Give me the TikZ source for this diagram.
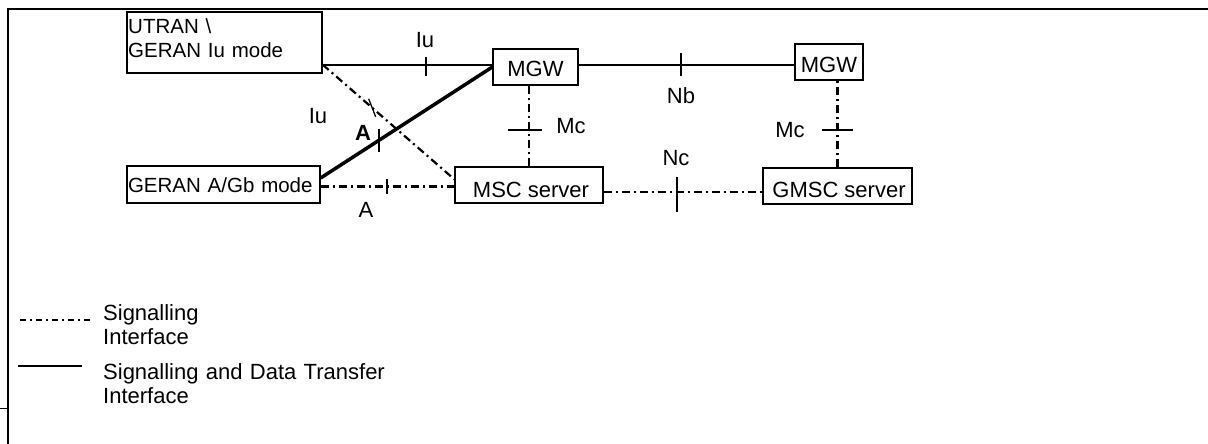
\documentclass[tikz,border=0pt]{standalone}
\usepackage{fontspec}
\setmainfont{Liberation Sans}
\begin{document}
\begin{tikzpicture}[x=1pt,y=-1pt,
  every node/.style={font=\fontsize{22}{24}\selectfont},
  small/.style={font=\fontsize{20.5}{23.5}\selectfont},
  box/.style={draw, line width=1.3pt, inner sep=0pt, text depth=0pt},
  sig/.style={line width=2.2pt, dash pattern=on 8pt off 4pt on 2pt off 4pt},
  data/.style={line width=1.6pt},
  thickdata/.style={line width=3.5pt},
  tick/.style={line width=1.3pt},
  thicktick/.style={line width=2.5pt},
  lbl/.style={inner sep=0pt, anchor=base},
  multi/.style={inner sep=0pt, anchor=base west, align=left, text width=#1}
]
\useasboundingbox (0,0) rectangle (1208,444);
% frame
\coordinate (fl) at (8,444);
\coordinate (ftl) at (8,9);
\coordinate (ftr) at (1208,9);
\draw[line width=2pt] (fl) -- (ftl) -- (ftr);
\coordinate (sa) at (0,408);
\coordinate (sb) at (8,408);
\draw[line width=1pt] (sa) -- (sb);

% boxes
\node[box, minimum width=195pt, minimum height=61pt] (utran) at (224.5,42.5) {};
\node[multi=190pt, small] (utrantxt) at (128,34) {UTRAN \textbackslash\\GERAN Iu mode};
\node[box, small, minimum width=193pt, minimum height=37pt, text height=15pt, text width=191pt, inner xsep=1pt, align=left] (geran) at (223.5,184.5) {GERAN A/Gb mode};
\node[box, minimum width=85pt, minimum height=36pt, text height=20pt] (mgwa) at (535.5,67) {MGW};
\node[box, minimum width=68pt, minimum height=36pt, text height=22pt] (mgwb) at (829,62) {MGW};
\node[box, minimum width=148pt, minimum height=36pt, text height=24pt] (msc) at (529,185) {\hspace{4pt}MSC server};
\node[box, minimum width=149pt, minimum height=36pt, text height=22pt] (gmsc) at (837.5,186) {\hspace{3pt}GMSC server};

% Iu solid
\draw[data, line width=2pt] ([yshift=9pt]utran.south east) coordinate (iuS) -- coordinate[pos=0.608] (tIu) (iuS -| mgwa.west);
\draw[thicktick] ([shift={(0,-8)}]tIu) -- ([shift={(0,11)}]tIu);
% Iu signalling
\draw[sig] (iuS) -- coordinate[pos=0.376] (tIu2) ([yshift=-13pt]msc.north west);
\draw[tick] ([shift={(-3.5,-9)}]tIu2) -- ([shift={(3.5,9)}]tIu2);
% A thick
\draw[thickdata] ([yshift=6.5pt]geran.east) -- coordinate[pos=0.341] (tA) (mgwa.west);
\draw[thicktick] ([shift={(0,-11.5)}]tA) -- ([shift={(0,11.5)}]tA);
% A signalling
\draw[sig] ([yshift=-2pt]geran.east) coordinate (aS) -- coordinate[pos=0.496] (tA2) (aS -| msc.west);
\draw[thicktick] ([shift={(0,-7.5)}]tA2) -- ([shift={(0,7.5)}]tA2);
% Nb
\draw[data] ([yshift=2pt]mgwa.east) coordinate (nbS) -- coordinate[pos=0.475] (tNb) (nbS -| mgwb.west);
\draw[tick] ([shift={(0,-12)}]tNb) -- ([shift={(0,11)}]tNb);
% Mc 1
\draw[sig] (msc.north) -- coordinate[pos=0.451] (tMc) (msc.north |- mgwa.south);
\draw[tick] ([shift={(-21,0)}]tMc) -- ([shift={(13,0)}]tMc);
% Mc 2
\draw[sig] (gmsc.north) -- coordinate[pos=0.432] (tMc2) (gmsc.north |- mgwb.south);
\draw[tick] ([shift={(-15.5,0)}]tMc2) -- ([shift={(15.5,0)}]tMc2);
% Nc
\draw[sig] ([yshift=-7pt]msc.east) coordinate (ncS) -- coordinate[pos=0.4625] (tNc) (ncS -| gmsc.west);
\draw[tick] ([shift={(0,-15)}]tNc) -- ([shift={(0,20)}]tNc);

% labels
\node[lbl] (lIu) at (425,48) {Iu};
\node[lbl] (lIu2) at (318,123) {Iu};
\node[lbl, font=\fontsize{22}{24}\selectfont\bfseries] (lA) at (363,140) {A};
\node[lbl] (lA2) at (366,217) {A};
\node[lbl] (lNb) at (681,103) {Nb};
\node[lbl] (lMc) at (571,133) {Mc};
\node[lbl] (lMc2) at (790,137) {Mc};
\node[lbl] (lNc) at (676,165) {Nc};

% legend
\coordinate (k1a) at (20,320);
\coordinate (k1b) at (90,320);
\draw[sig, dash pattern=on 6pt off 4pt on 2pt off 4pt] (k1a) -- (k1b);
\node[multi=300pt] (k1t) at (103,320) {Signalling\\Interface};
\coordinate (k2a) at (18,366);
\coordinate (k2b) at (82,366);
\draw[line width=2pt] (k2a) -- (k2b);
\node[multi=400pt] (k2t) at (103,379) {Signalling and Data Transfer\\Interface};
\end{tikzpicture}
\end{document}
